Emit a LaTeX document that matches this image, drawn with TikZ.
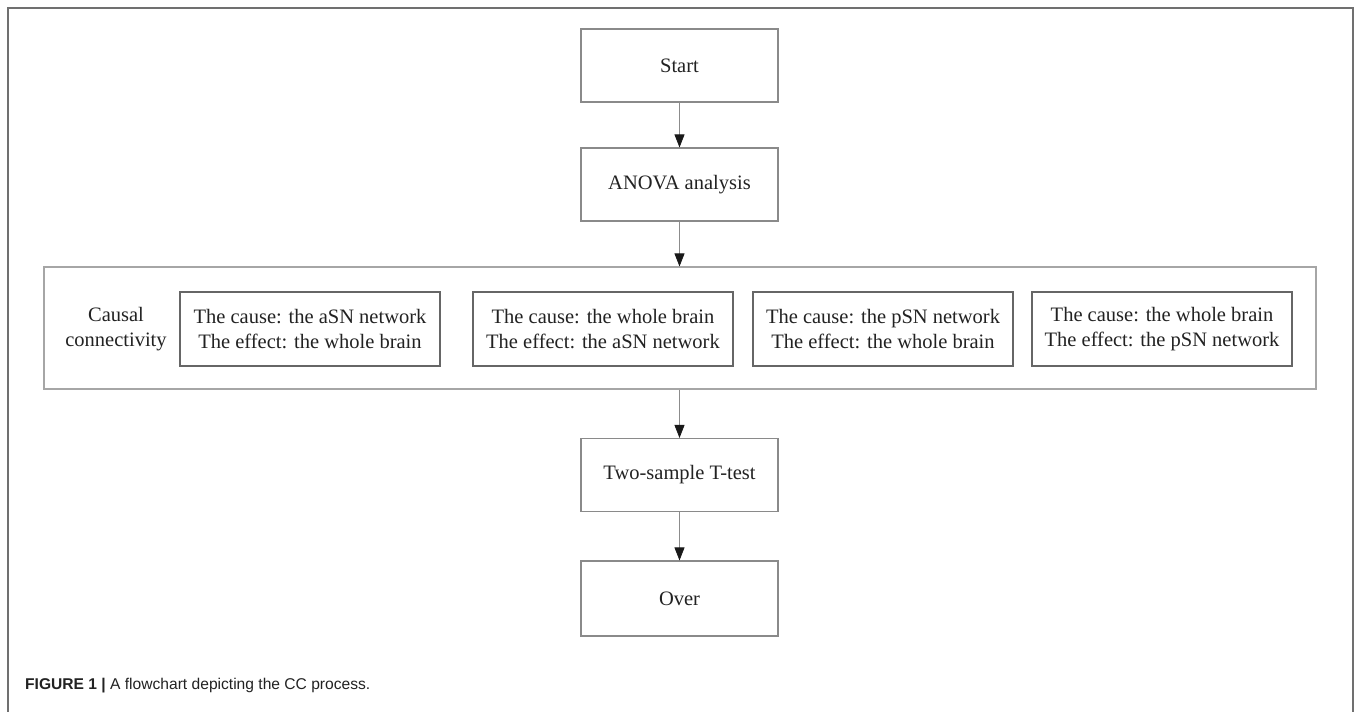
\documentclass[tikz,border=0pt]{standalone}
\usepackage{fontspec}
\setmainfont{Liberation Serif}
\newfontfamily\capfont{Liberation Sans}
\usepackage{xcolor}
\usetikzlibrary{arrows.meta}
\definecolor{boxgray}{HTML}{8A8A8A}
\definecolor{framegray}{HTML}{707070}
\definecolor{txtgray}{HTML}{222222}

\tikzset{
	stepbox/.style={draw=boxgray, line width=1.1pt, minimum width=197pt, minimum height=73pt,
		inner sep=0pt, align=center, text=txtgray, font=\fontsize{20.5}{25}\selectfont},
	pairbox/.style={stepbox, draw=black!60, minimum width=260pt, minimum height=74pt},
	arr/.style={draw=black!45, line width=0.8pt, -{Triangle[length=13pt,width=10pt,color=black!90]}}
}

\begin{document}
\begin{tikzpicture}[x=1pt,y=-1pt]
	
	\useasboundingbox (0,0) rectangle (1358,712);
	\draw[framegray, line width=1.8pt] (8,712)--(8,8)--(1353,8)--(1353,712); % outer frame
	
	\coordinate (M) at (679.5,65.5); % middle of the chart
	
	\path
		(M) node[stepbox] (start) {Start}
		(679.5,184.5) node[stepbox] (anova) {ANOVA analysis}
		(680,328) node[draw=black!35, line width=1.1pt, minimum width=1272pt, minimum height=122pt] (cc) {}
		(116,329.5) node[align=center, text=txtgray, font=\fontsize{20.5}{25}\selectfont] (caus) {Causal\\connectivity}
		(310,329) node[pairbox] (c1) {The cause: the aSN network\\The effect: the whole brain}
		(603,329) node[pairbox] (c2) {The cause: the whole brain\\The effect: the aSN network}
		(883,329) node[pairbox] (c3) {The cause: the pSN network\\The effect: the whole brain}
		(1162,329) node[pairbox] (c4) {The cause: the whole brain\\The effect: the pSN network}
		(679.5,475) node[stepbox] (ttest) {Two-sample T-test}
		(679.5,598.5) node[stepbox, minimum height=75pt] (over) {Over};
	
	\draw[arr] (start)--(anova);
	\draw[arr] (anova.south)--(anova.south |- cc.north);
	\draw[arr] (ttest.north |- cc.south)--(ttest.north);
	\draw[arr] (ttest)--(over);
	
	\node[anchor=west, inner sep=0pt, text=txtgray, font=\capfont\fontsize{15.6}{18}\selectfont] (cap) at (25,686)
		{\textbf{FIGURE 1 |} A flowchart depicting the CC process.};
	
\end{tikzpicture}
\end{document}
